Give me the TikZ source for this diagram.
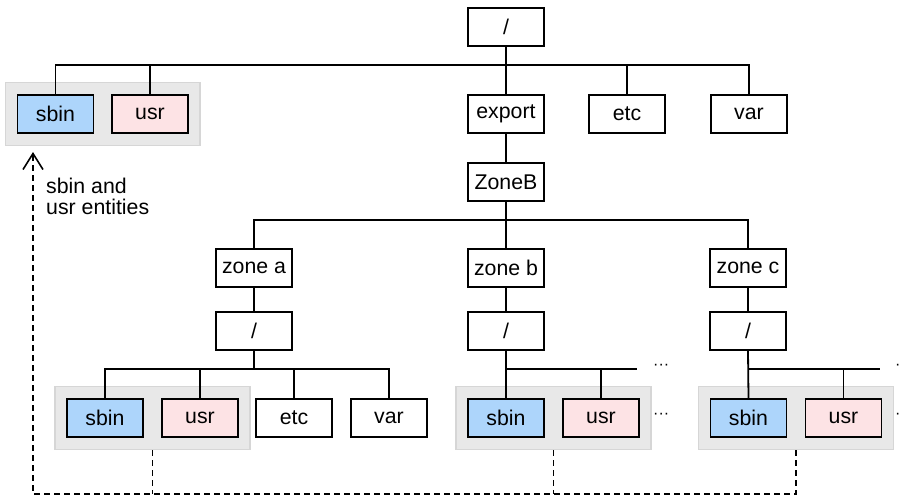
\documentclass[tikz,border=0pt]{standalone}
\usepackage{fontspec}
\setmainfont{Liberation Sans}
\usetikzlibrary{fit,backgrounds,arrows.meta}
\definecolor{sbinblue}{HTML}{ADD5FB}
\definecolor{usrpink}{HTML}{FDE3E5}
\definecolor{grpfill}{HTML}{E8E8E8}
\definecolor{grpline}{HTML}{D6D6D6}
\tikzset{
  box/.style={draw=black, line width=1.8pt, minimum width=76pt, minimum height=38pt, inner sep=0pt, font=\fontsize{21.3}{22}\selectfont, fill=white},
  sbinbox/.style={box, fill=sbinblue},
  usrbox/.style={box, fill=usrpink},
  grp/.style={draw=grpline, fill=grpfill, line width=1.5pt, inner xsep=11pt, inner ysep=11.5pt},
  tree/.style={line width=1.8pt, black},
  dashline/.style={line width=1.6pt, dash pattern=on 6pt off 4pt},
  dots/.style={font=\fontsize{16}{18}\selectfont, inner sep=0pt}
}
\begin{document}
\begin{tikzpicture}[x=1pt,y=-1pt]
\useasboundingbox (0,0) rectangle (902,498);
% top level
\node[box] (root) at (506,27) {/};
\node[sbinbox] (sbin1) at (55.5,114) {sbin};
\node[usrbox] (usr1) at (150,114) {usr};
\node[box] (export) at (506,114) {export};
\node[box] (etc1) at (627,114) {etc};
\node[box] (var1) at (749,114) {var};
\node[box] (zoneB) at (506,182) {ZoneB};
\node[box] (zonea) at (254,268) {zone a};
\node[box] (zoneb) at (506,268) {zone b};
\node[box] (zonec) at (748,268) {zone c};
\node[box] (slasha) at (254,331) {/};
\node[box] (slashb) at (506,331) {/};
\node[box] (slashc) at (748,331) {/};
\node[sbinbox] (sbin2) at (105,418) {sbin};
\node[usrbox] (usr2) at (200,418) {usr};
\node[box] (etc2) at (294,418) {etc};
\node[box] (var2) at (389,418) {var};
\node[sbinbox] (sbin3) at (506,418) {sbin};
\node[usrbox] (usr3) at (601,418) {usr};
\node[sbinbox] (sbin4) at (748.5,418) {sbin};
\node[usrbox] (usr4) at (843.5,418) {usr};
\begin{scope}[on background layer]
\node[grp, fit=(sbin1)(usr1)] (g1) {};
\node[grp, fit=(sbin2)(usr2)] (g2) {};
\node[grp, fit=(sbin3)(usr3)] (g3) {};
\node[grp, fit=(sbin4)(usr4)] (g4) {};
\end{scope}
% bus coordinates
\coordinate (bus1) at (506,65);
\coordinate (bus2) at (506,220);
\coordinate (bus3) at (254,369);
\coordinate (endb) at (637,369);
\coordinate (endc) at (880,369);
% tree lines
\draw[tree] (root.south) -- (export.north);
\draw[tree] (sbin1.north) |- (var1.north |- bus1) -- (var1.north);
\draw[tree] (usr1.north) -- (usr1.north |- bus1);
\draw[tree] (etc1.north) -- (etc1.north |- bus1);
\draw[tree] (export.south) -- (zoneB.north);
\draw[tree] (zoneB.south) -- (zoneb.north);
\draw[tree] (zonea.north) |- (zonec.north |- bus2) -- (zonec.north);
\draw[tree] (zonea.south) -- (slasha.north);
\draw[tree] (zoneb.south) -- (slashb.north);
\draw[tree] (zonec.south) -- (slashc.north);
\draw[tree] (slasha.south) -- (bus3);
\draw[tree] (sbin2.north) |- (var2.north |- bus3) -- (var2.north);
\draw[tree] (usr2.north) -- (usr2.north |- bus3);
\draw[tree] (etc2.north) -- (etc2.north |- bus3);
\draw[tree] (slashb.south) -- (sbin3.north);
\draw[tree] (sbin3.north |- endb) -- (endb);
\draw[tree] (usr3.north) -- (usr3.north |- endb);
\draw[tree] (slashc.south) -- (sbin4.north);
\draw[tree] (sbin4.north |- endc) -- (endc);
\draw[tree] (usr4.north) -- (usr4.north |- endc);
% dots
\node[dots, anchor=west] (d1) at (653,367) {\textperiodcentered\textperiodcentered\textperiodcentered};
\node[dots, anchor=west] (d2) at (653,416) {\textperiodcentered\textperiodcentered\textperiodcentered};
\node[dots, anchor=west] (d3) at (895,367) {\textperiodcentered};
\node[dots, anchor=west] (d4) at (895,416) {\textperiodcentered};
% dashed connectors
\coordinate (cL) at (33,494);
\draw[dashline] (g2.south) -- (g2.south |- cL);
\draw[dashline] (g3.south) -- (g3.south |- cL);
\draw[dashline, -{Straight Barb[length=16pt,width=20pt,line width=1.6pt]}]
  (g4.south) |- (cL) -- (33,152);
\node[anchor=north west, align=left, inner sep=0pt, font=\fontsize{21.3}{21}\selectfont] (lbl) at (46,178) {sbin and\\usr entities};
\end{tikzpicture}
\end{document}
